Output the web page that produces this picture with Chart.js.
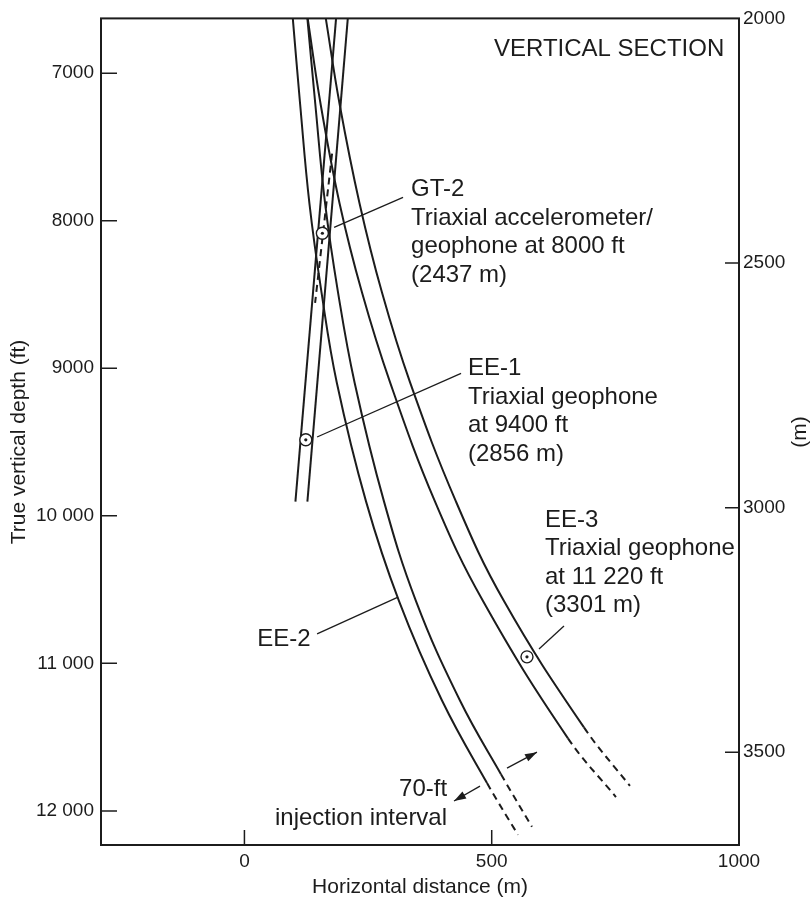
<!DOCTYPE html>
<html>
<head>
<meta charset="utf-8">
<script src="https://cdn.jsdelivr.net/npm/chart.js@4.4.1/dist/chart.umd.min.js"></script>
<style>
  html, body { margin: 0; padding: 0; background: #fff; }
  #wrap { width: 811px; height: 900px; }
</style>
</head>
<body>
<div id="wrap"><canvas id="vsection" width="811" height="900"></canvas></div>
<script>
// axis ticks
const distTicks = [0, 500, 1000];
const tvdTicks = [7000, 8000, 9000, 10000, 11000, 12000];
const metreTicks = [2000, 2500, 3000, 3500];

// well outlines: horizontal distance (m) / true vertical depth (ft)
const ee2WestX   = [97.8, 112.6, 131.4, 156.0, 186.7, 246.0, 312.6, 399.5, 490.5, 553.1];
const ee2WestTvd = [6629, 7209, 7883, 8489, 9096, 9904, 10578, 11252, 11811, 12162];
const ee2EastX   = [127.3, 143.3, 163.1, 189.4, 222.7, 282.3, 346.9, 435.8, 518.7, 581.4];
const ee2EastTvd = [6629, 7209, 7883, 8489, 9096, 9904, 10578, 11252, 11751, 12108];
const ee3WestX   = [127.9, 154.0, 192.4, 237.9, 294.5, 385.4, 482.4, 654.2, 751.2];
const ee3WestTvd = [6629, 7209, 7883, 8489, 9096, 9904, 10578, 11508, 11906];
const ee3EastX   = [164.5, 192.4, 232.8, 278.3, 334.9, 427.8, 524.8, 686.5, 779.5];
const ee3EastTvd = [6629, 7209, 7883, 8489, 9096, 9904, 10578, 11434, 11831];
const ee1WestX   = [185.3, 103.1];
const ee1WestTvd = [6629, 9904];
const ee1EastX   = [209.0, 127.3];
const ee1EastTvd = [6629, 9904];
const gt2X       = [177.2, 142.9];
const gt2Tvd     = [7546, 8557];

// sensors
const sensorX   = [157.6, 124.1, 571.3];
const sensorTvd = [8085, 9485, 10956];

// injection interval arrows (tail, head)
const arrowUpX   = [530.9, 591.5];
const arrowUpTvd = [11710, 11602];
const arrowDnX   = [476.3, 423.8];
const arrowDnTvd = [11832, 11933];

// leader lines from labels to wells
const leaders = [
  { x: [181.3, 320.7], tvd: [8045, 7842] },   // GT-2
  { x: [146.9, 438.0], tvd: [9466, 9035] },   // EE-1
  { x: [595.6, 646.1], tvd: [10902, 10747] }, // EE-3
  { x: [146.9, 310.6], tvd: [10800, 10551] }  // EE-2
];

const notes = [
  { x: 504.6, tvd: 6886, align: 'left', lines: ['VERTICAL SECTION'] },
  { x: 336.9, tvd: 7836, align: 'left', lines: ['GT-2', 'Triaxial accelerometer/', 'geophone at 8000 ft', '(2437 m)'] },
  { x: 452.1, tvd: 9049, align: 'left', lines: ['EE-1', 'Triaxial geophone', 'at 9400 ft', '(2856 m)'] },
  { x: 607.7, tvd: 10073, align: 'left', lines: ['EE-3', 'Triaxial geophone', 'at 11 220 ft', '(3301 m)'] },
  { x: 25.7, tvd: 10881, align: 'left', lines: ['EE-2'] },
  { x: 409.7, tvd: 11899, align: 'right', lines: ['70-ft', 'injection interval'] }
];

const INK = '#1c1c1c';
const FONT = "'Liberation Sans', Arial, Helvetica, sans-serif";
Chart.defaults.font.family = FONT;
Chart.defaults.color = INK;

function pts(xs, ys) {
  return xs.map(function (x, i) { return { x: x, y: ys[i] }; });
}

// dashFrom: index of the first point of the dashed (projected) part
function wellLine(xs, ys, dashFrom, curved) {
  return {
    data: pts(xs, ys),
    showLine: true,
    borderColor: INK,
    borderWidth: 2,
    pointRadius: 0,
    tension: curved ? 0.4 : 0,
    segment: {
      borderDash: function (c) {
        return (dashFrom != null && c.p0DataIndex >= dashFrom) ? [7, 5] : undefined;
      }
    }
  };
}

function thinLine(xs, ys) {
  return { data: pts(xs, ys), showLine: true, borderColor: INK, borderWidth: 1.3, pointRadius: 0, tension: 0 };
}

const datasets = [
  // centre dots first so they sit on top of the rings
  { data: pts(sensorX, sensorTvd), pointRadius: 1.6, pointBackgroundColor: INK,
    pointBorderColor: INK, pointBorderWidth: 0 },
  { data: pts(sensorX, sensorTvd), pointRadius: 6, pointBackgroundColor: '#fff',
    pointBorderColor: INK, pointBorderWidth: 1.4 },
  wellLine(ee2WestX, ee2WestTvd, 8, true),
  wellLine(ee2EastX, ee2EastTvd, 8, true),
  wellLine(ee3WestX, ee3WestTvd, 7, true),
  wellLine(ee3EastX, ee3EastTvd, 7, true),
  wellLine(ee1WestX, ee1WestTvd, null, false),
  wellLine(ee1EastX, ee1EastTvd, null, false),
  wellLine(gt2X, gt2Tvd, 0, false),
  thinLine(arrowUpX, arrowUpTvd),
  thinLine(arrowDnX, arrowDnTvd)
];
leaders.forEach(function (l) { datasets.push(thinLine(l.x, l.tvd)); });

function fixTicks(values) {
  return function (scale) { scale.ticks = values.map(function (v) { return { value: v }; }); };
}
function spaced(v) {
  return v >= 10000 ? String(v).replace(/(\d+)(\d{3})$/, '$1 $2') : String(v);
}
function plain(v) { return String(v); }

const framePlugin = {
  id: 'frame',
  afterDraw: function (chart) {
    const ctx = chart.ctx;
    const a = chart.chartArea;
    const sx = chart.scales.x, sy = chart.scales.y, sm = chart.scales.ym;
    ctx.save();
    ctx.strokeStyle = INK;
    ctx.lineWidth = 2;
    ctx.strokeRect(a.left, a.top, a.right - a.left, a.bottom - a.top);
    ctx.lineWidth = 1.5;
    ctx.beginPath();
    distTicks.forEach(function (v) {
      const p = sx.getPixelForValue(v);
      if (p < a.right - 2) { ctx.moveTo(p, a.bottom); ctx.lineTo(p, a.bottom - 15); }
    });
    tvdTicks.forEach(function (v) {
      const p = sy.getPixelForValue(v);
      ctx.moveTo(a.left, p); ctx.lineTo(a.left + 16, p);
    });
    metreTicks.forEach(function (v) {
      const p = sm.getPixelForValue(v);
      if (p > a.top + 2) { ctx.moveTo(a.right, p); ctx.lineTo(a.right - 14, p); }
    });
    ctx.stroke();

    // arrowheads
    function head(xs, ys) {
      const x0 = sx.getPixelForValue(xs[0]), y0 = sy.getPixelForValue(ys[0]);
      const x1 = sx.getPixelForValue(xs[1]), y1 = sy.getPixelForValue(ys[1]);
      const ang = Math.atan2(y1 - y0, x1 - x0);
      ctx.beginPath();
      ctx.moveTo(x1, y1);
      ctx.lineTo(x1 - 12 * Math.cos(ang) + 4 * Math.sin(ang), y1 - 12 * Math.sin(ang) - 4 * Math.cos(ang));
      ctx.lineTo(x1 - 12 * Math.cos(ang) - 4 * Math.sin(ang), y1 - 12 * Math.sin(ang) + 4 * Math.cos(ang));
      ctx.closePath();
      ctx.fillStyle = INK;
      ctx.fill();
    }
    head(arrowUpX, arrowUpTvd);
    head(arrowDnX, arrowDnTvd);

    // annotations
    ctx.fillStyle = INK;
    ctx.font = '24px ' + FONT;
    ctx.textBaseline = 'alphabetic';
    notes.forEach(function (n) {
      const px = sx.getPixelForValue(n.x), py = sy.getPixelForValue(n.tvd);
      ctx.textAlign = n.align;
      n.lines.forEach(function (t, i) { ctx.fillText(t, px, py + i * 28.5); });
    });

    // axis titles
    ctx.font = '21px ' + FONT;
    ctx.textAlign = 'center';
    ctx.textBaseline = 'middle';
    ctx.fillText('Horizontal distance (m)', (a.left + a.right) / 2, 887);
    ctx.save();
    ctx.translate(19, 442);
    ctx.rotate(-Math.PI / 2);
    ctx.fillText('True vertical depth (ft)', 0, 0);
    ctx.restore();
    ctx.save();
    ctx.translate(800, 432);
    ctx.rotate(-Math.PI / 2);
    ctx.fillText('(m)', 0, 0);
    ctx.restore();
    ctx.restore();
  }
};

new Chart(document.getElementById('vsection'), {
  type: 'scatter',
  data: { datasets: datasets },
  options: {
    responsive: false,
    animation: false,
    events: [],
    layout: { padding: { top: 14, left: 0, right: 0, bottom: 0 } },
    plugins: { legend: { display: false }, tooltip: { enabled: false } },
    scales: {
      x: {
        type: 'linear', position: 'bottom', min: -290, max: 1000,
        afterBuildTicks: fixTicks(distTicks),
        afterFit: function (s) { s.height = 55; },
        grid: { display: false, drawTicks: false },
        border: { display: false },
        ticks: { padding: 5, color: INK, font: { size: 19 }, maxRotation: 0, callback: plain }
      },
      y: {
        type: 'linear', position: 'left', reverse: true, min: 6629, max: 12231,
        afterBuildTicks: fixTicks(tvdTicks),
        afterFit: function (s) { s.width = 101; },
        grid: { display: false, drawTicks: false },
        border: { display: false },
        ticks: { padding: 7, color: INK, font: { size: 19 }, callback: spaced }
      },
      ym: {
        type: 'linear', position: 'right', reverse: true, min: 2000, max: 3689.6,
        afterBuildTicks: fixTicks(metreTicks),
        afterFit: function (s) { s.width = 72; },
        grid: { display: false, drawTicks: false },
        border: { display: false },
        ticks: { padding: 4, color: INK, font: { size: 19 }, callback: plain }
      }
    }
  },
  plugins: [framePlugin]
});
</script>
</body>
</html>
